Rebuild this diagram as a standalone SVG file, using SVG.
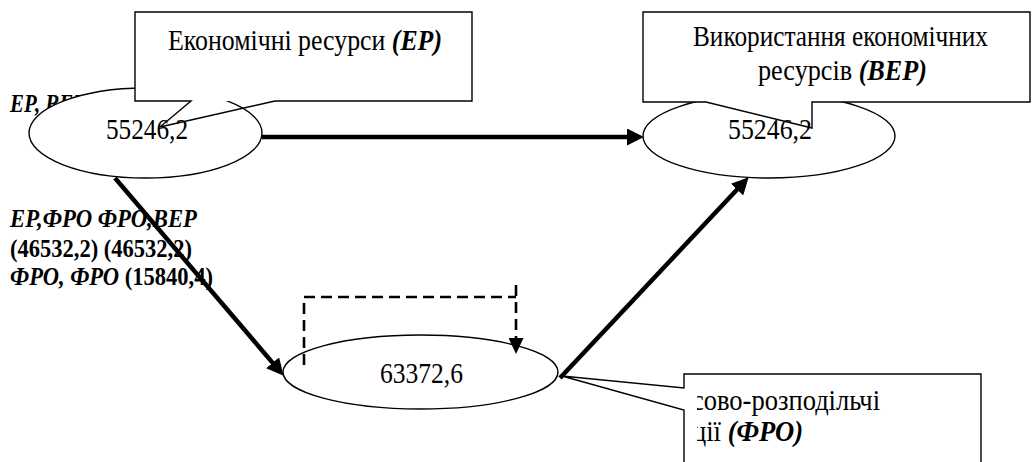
<svg xmlns="http://www.w3.org/2000/svg" width="1032" height="462" viewBox="0 0 1032 462" font-family="'Liberation Serif', 'DejaVu Serif', serif">
<style>
  text{font-family:'Liberation Serif','DejaVu Serif',serif;fill:#000}
  .lbl{font-size:25.5px;font-weight:bold}
  .bi{font-style:italic;font-weight:bold}
  .node ellipse{fill:#fff;stroke:#000;stroke-width:1.4}
  .num{font-size:30px}
  .cbox{fill:#fff;stroke:none}
  .cline{fill:none;stroke:#000;stroke-width:1.4}
  .ct{font-size:28.5px}
  .conn{fill:none;stroke:#000;stroke-width:4.5}
  .dash{fill:none;stroke:#000;stroke-width:2.6;stroke-dasharray:11 6}
</style>
<defs>
  <marker id="ah" markerUnits="userSpaceOnUse" markerWidth="17" markerHeight="17" viewBox="0 0 17 17" refX="8" refY="8.5" orient="auto"><path d="M0,0 L17,8.5 L0,17 Z" fill="#000"/></marker>
  <marker id="ahd" markerUnits="userSpaceOnUse" markerWidth="16" markerHeight="15" viewBox="0 0 16 15" refX="8" refY="7.5" orient="auto"><path d="M0,0 L16,7.5 L0,15 Z" fill="#000"/></marker>
  <clipPath id="clipFro"><rect x="697" y="374" width="284" height="100"/></clipPath>
</defs>

<g id="labels">
  <text class="lbl bi" x="10" y="112" textLength="76" lengthAdjust="spacingAndGlyphs">ЕР, ВЕР</text>
  <text class="lbl bi" x="10" y="227" textLength="187" lengthAdjust="spacingAndGlyphs">ЕР,ФРО ФРО,ВЕР</text>
  <text class="lbl" x="10" y="257" textLength="182" lengthAdjust="spacingAndGlyphs">(46532,2) (46532,2)</text>
  <text class="lbl" x="10" y="285" textLength="203" lengthAdjust="spacingAndGlyphs"><tspan class="bi">ФРО, ФРО</tspan> (15840,4)</text>
</g>

<g id="node-ep" class="node">
  <ellipse cx="145.5" cy="133" rx="116.5" ry="45"/>
  <text class="num" x="106" y="139" textLength="82" lengthAdjust="spacingAndGlyphs">55246,2</text>
</g>
<g id="node-vep" class="node">
  <ellipse cx="769" cy="136" rx="126" ry="42"/>
  <text class="num" x="728" y="139" textLength="84" lengthAdjust="spacingAndGlyphs">55246,2</text>
</g>
<g id="node-fro" class="node">
  <ellipse cx="420.5" cy="372" rx="137.5" ry="37"/>
  <text class="num" x="380" y="383" textLength="83" lengthAdjust="spacingAndGlyphs">63372,6</text>
</g>

<g id="connectors">
  <line class="conn" x1="262" y1="137" x2="635" y2="137" marker-end="url(#ah)"/>
  <line class="conn" x1="115" y1="178" x2="277.8" y2="368.9" marker-end="url(#ah)"/>
  <line class="conn" x1="560" y1="378" x2="742.5" y2="183.8" marker-end="url(#ah)"/>
  <path class="dash" d="M304,365 V297 H516"/>
  <line class="dash" x1="516" y1="285" x2="516" y2="346" marker-end="url(#ahd)"/>
</g>

<g id="callout-ep">
  <rect class="cbox" x="135" y="12" width="337" height="89"/>
  <path class="cline" d="M135,12 H472 V101 H275 L160,127 L191,101 H135 Z"/>
  <text class="ct" x="168" y="50" textLength="274" lengthAdjust="spacingAndGlyphs">Економічні ресурси <tspan class="bi">(ЕР)</tspan></text>
</g>

<g id="callout-vep">
  <rect class="cbox" x="643" y="12" width="387" height="90"/>
  <path class="cline" d="M643,12 H1030 V102 H812 V128 L706,102 H643 Z"/>
  <text class="ct" x="693" y="46" textLength="295" lengthAdjust="spacingAndGlyphs">Використання економічних</text>
  <text class="ct" x="758" y="80" textLength="169" lengthAdjust="spacingAndGlyphs">ресурсів <tspan class="bi">(ВЕР)</tspan></text>
</g>

<g id="callout-fro">
  <rect class="cbox" x="684" y="374" width="297" height="100"/>
  <path class="cline" d="M684,388 V374 H981 V470 H684 V410 L562,376 Z"/>
  <g clip-path="url(#clipFro)">
    <text class="ct" x="692" y="410" textLength="188" lengthAdjust="spacingAndGlyphs">сово-розподільчі</text>
    <text class="ct" x="692" y="441" textLength="111" lengthAdjust="spacingAndGlyphs">ції <tspan class="bi">(ФРО)</tspan></text>
  </g>
</g>
</svg>
